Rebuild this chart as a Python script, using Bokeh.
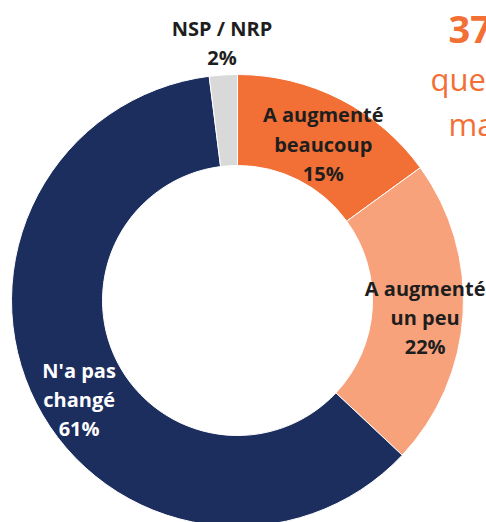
import numpy as np
from bokeh.plotting import figure
from bokeh.models import Range1d, ColumnDataSource
from bokeh.core.properties import value
from bokeh.embed import file_html
from bokeh.resources import INLINE

# ---- data ----
categories = ["A augmenté\nbeaucoup", "A augmenté\nun peu", "N'a pas\nchangé", "NSP / NRP"]
shares = [15, 22, 61, 2]
colors = ["#F26F35", "#F8A27C", "#1C2E5E", "#D9D9D9"]
label_colors = ["#1E1E1E", "#1E1E1E", "#FFFFFF", "#1E1E1E"]
headline_lines = ["37%", "que", "ma"]

# ---- geometry (pixel-like data space) ----
cx, cy = 237, -300
r_in, r_out = 135, 226

vals = np.array(shares, dtype=float)
frac = vals / vals.sum()
cum = np.cumsum(frac)
start = np.pi / 2 - 2 * np.pi * (cum - frac)
end = np.pi / 2 - 2 * np.pi * cum
mid = (start + end) / 2

label_r = [180, 180, 180, 262]
label_dx = [4, 8, 2, 1]
label_dy = [4, 6, 17, 4]
lx = [cx + r * np.cos(a) for r, a in zip(label_r, mid)]
ly = [cy + r * np.sin(a) for r, a in zip(label_r, mid)]
texts = [f"{c}\n{s}%" for c, s in zip(categories, shares)]

src = ColumnDataSource(dict(start=start, end=end, color=colors))
lsrc = ColumnDataSource(dict(x=lx, y=ly, text=texts, color=label_colors,
                             dx=label_dx, dy=label_dy))

p = figure(width=486, height=522, output_backend="svg", toolbar_location=None,
           x_range=Range1d(0, 486), y_range=Range1d(-522, 0),
           x_axis_type=None, y_axis_type=None, min_border=0)
p.grid.visible = False
p.outline_line_color = None
p.background_fill_color = "white"

p.annular_wedge(x=cx, y=cy, inner_radius=r_in, outer_radius=r_out,
                start_angle="start", end_angle="end", direction="clock",
                fill_color="color", line_color="white", line_width=1, source=src)

p.text(x="x", y="y", text="text", text_color="color", x_offset="dx", y_offset="dy",
       text_font=value("Open Sans"), text_font_style="bold", text_font_size="20px",
       text_align="center", text_baseline="middle", text_line_height=1.08, source=lsrc)

# cut-off headline at the top right
p.text(x=[448], y=[-27], text=[headline_lines[0]], text_color="#F26F35",
       text_font=value("Open Sans"), text_font_style="bold", text_font_size="38px",
       text_align="left", text_baseline="alphabetic")
p.text(x=[430, 448], y=[-78, -123], text=headline_lines[1:], text_color="#F26F35",
       text_font=value("Open Sans"), text_font_size="31px",
       text_align="left", text_baseline="alphabetic")

open("out.html", "w").write(file_html(p, INLINE))
